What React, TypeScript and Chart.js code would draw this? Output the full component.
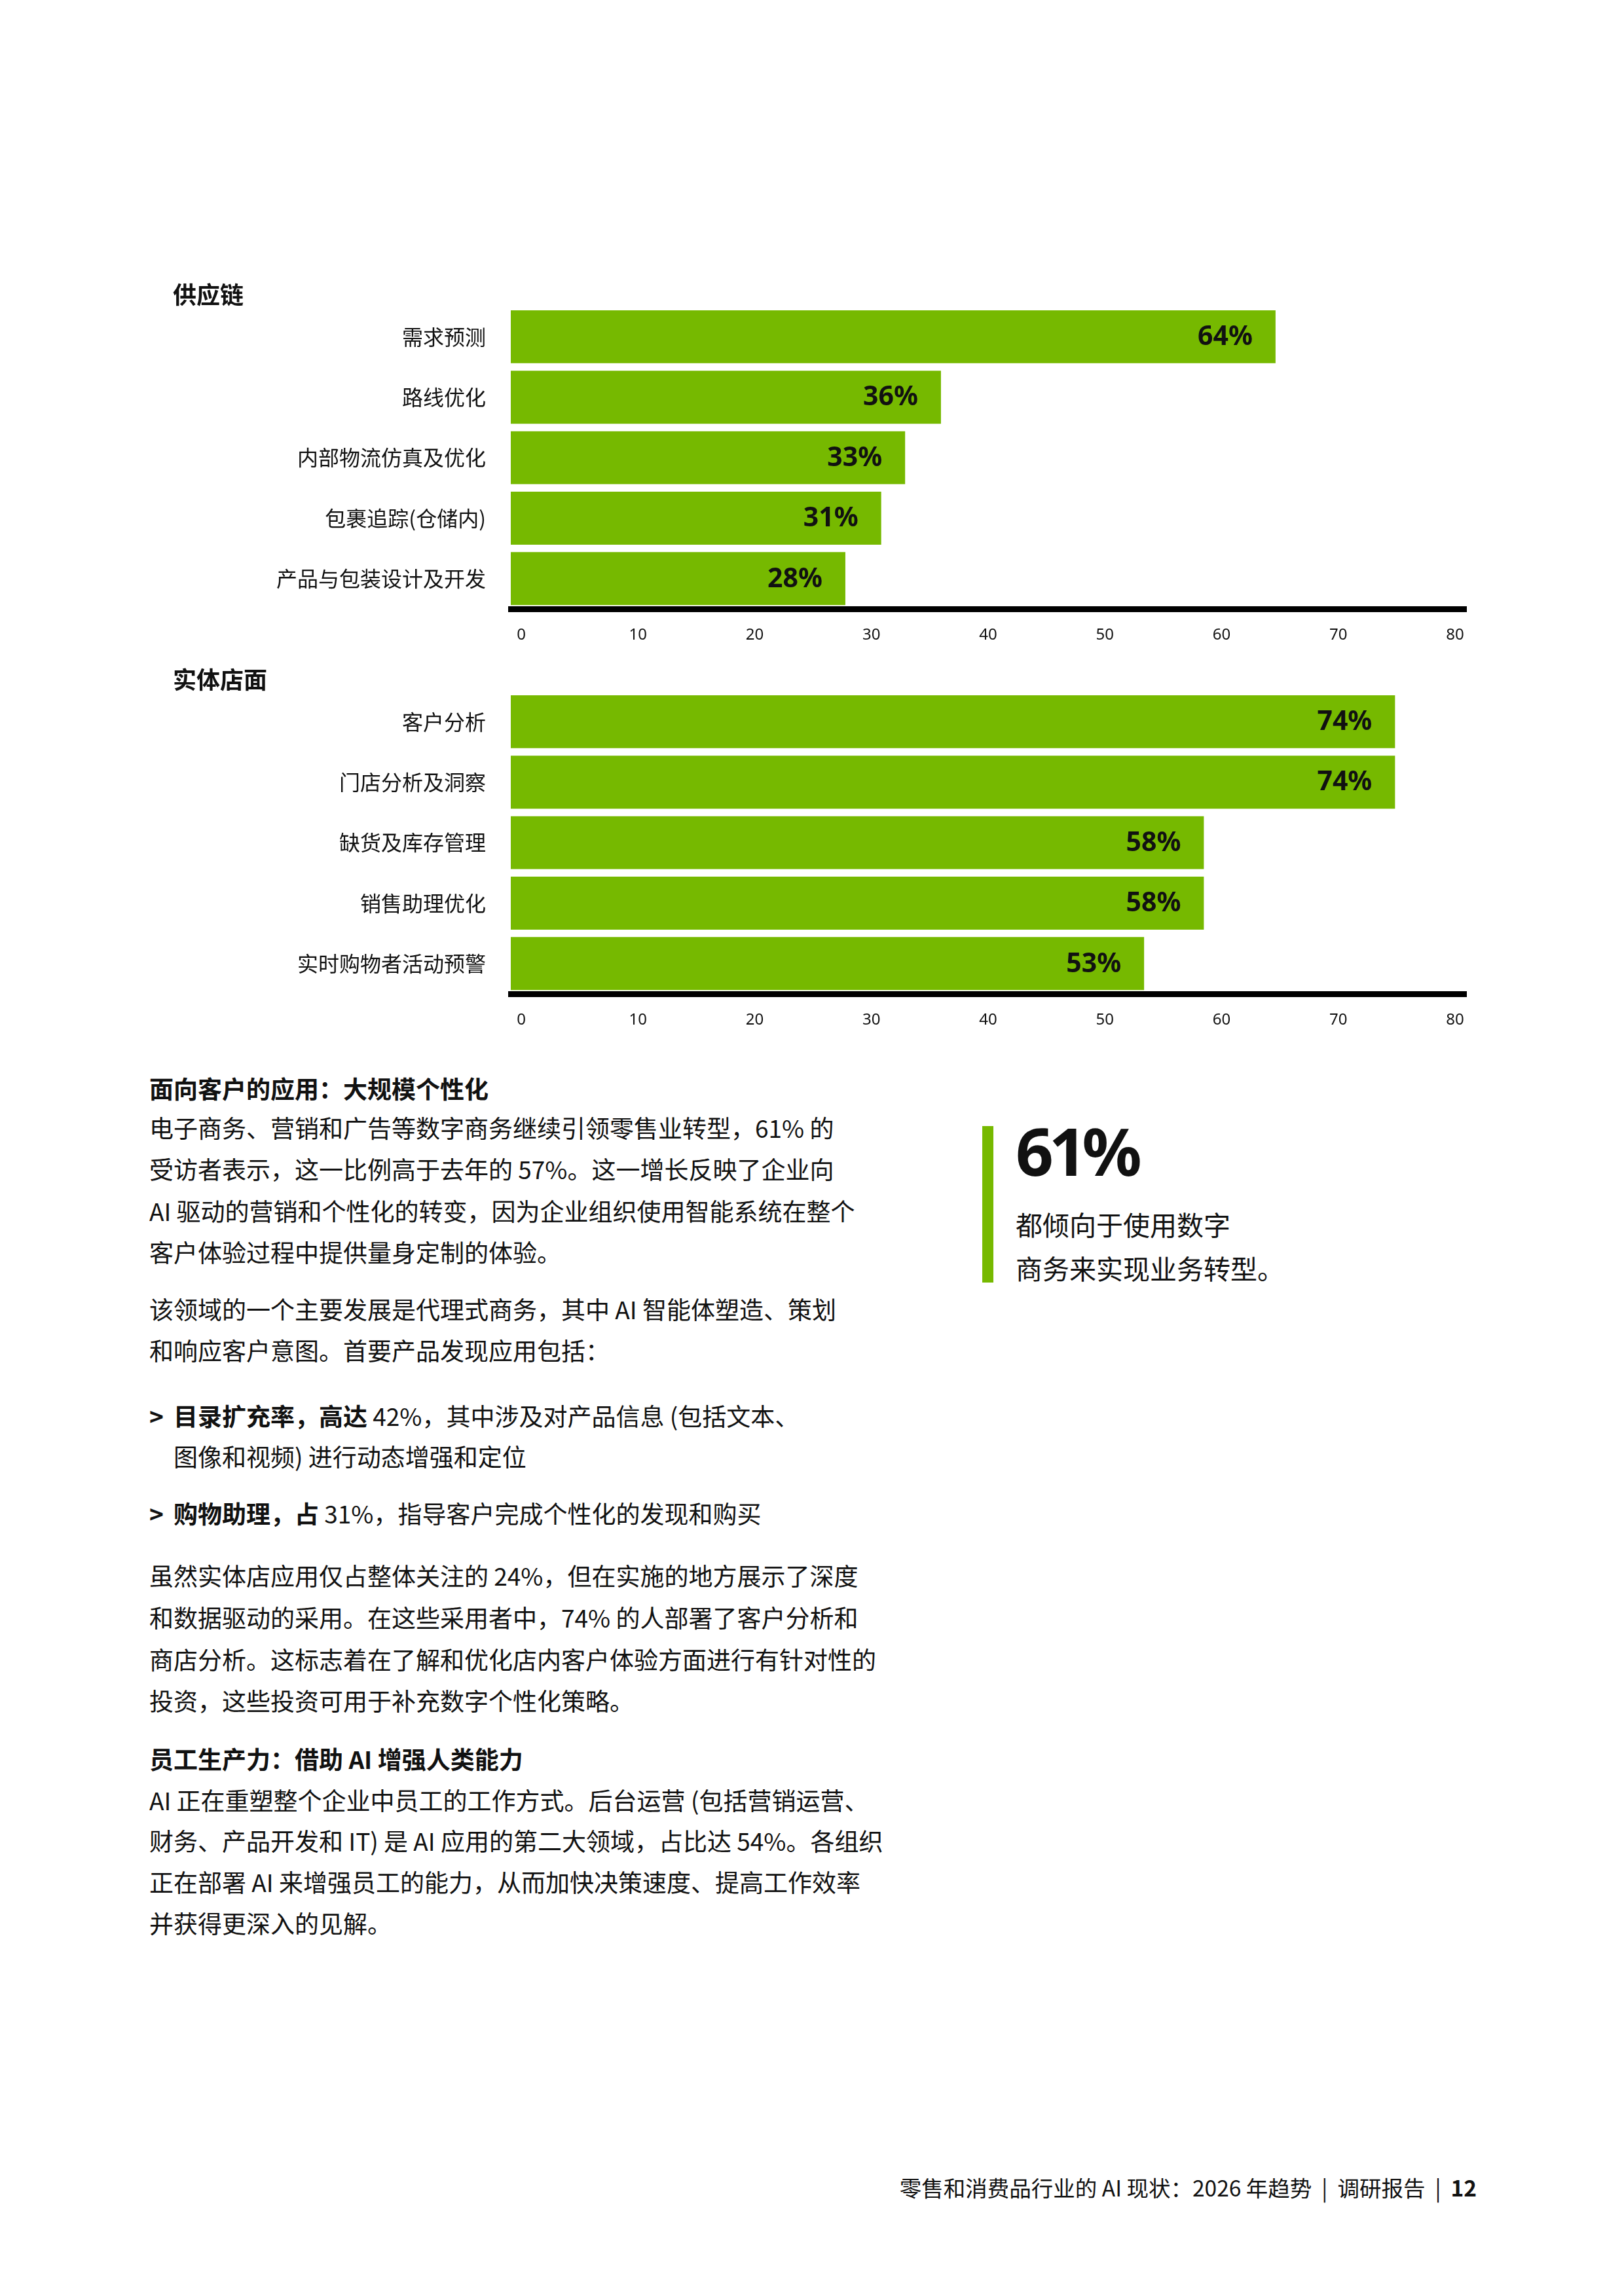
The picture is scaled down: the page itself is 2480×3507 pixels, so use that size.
import React, { useEffect, useRef } from "react";
import { Chart, registerables } from "chart.js";

Chart.register(...registerables);

// ---------- data ----------
const supplyTitle = "供应链";
const supplyCategories = ["需求预测", "路线优化", "内部物流仿真及优化", "包裹追踪(仓储内)", "产品与包装设计及开发"];
const supplyValues = [64, 36, 33, 31, 28];

const storeTitle = "实体店面";
const storeCategories = ["客户分析", "门店分析及洞察", "缺货及库存管理", "销售助理优化", "实时购物者活动预警"];
const storeValues = [74, 74, 58, 58, 53];

const xTickValues = [0, 10, 20, 30, 40, 50, 60, 70, 80];

// ---------- style ----------
const GREEN = "#76b900";
const INK = "#111111";
const CJK = '"Noto Sans CJK SC", "Noto Sans", sans-serif';
const LATIN = '"Noto Sans", "Noto Sans CJK SC", sans-serif';
// tick-label axis is inset slightly relative to the bar value axis (as in the original)
const TICK_MIN = -0.9;
const TICK_MAX = 81;
const BAR_MIN = 0;
const BAR_MAX = 80;

const valueLabelPlugin = {
  id: "valueLabels",
  afterDatasetsDraw(chart: any) {
    const ctx = chart.ctx;
    const meta = chart.getDatasetMeta(0);
    const data = chart.data.datasets[0].data as number[];
    ctx.save();
    ctx.font = `bold 41px ${LATIN}`;
    ctx.fillStyle = INK;
    ctx.textAlign = "right";
    ctx.textBaseline = "middle";
    meta.data.forEach((bar: any, i: number) => {
      ctx.fillText(`${data[i]}%`, bar.x - 35, bar.y + 1);
    });
    ctx.restore();
  },
};

function BarPanel(props: { title: string; categories: string[]; values: number[]; top: number }) {
  const ref = useRef<HTMLCanvasElement>(null);
  useEffect(() => {
    const chart = new Chart(ref.current as HTMLCanvasElement, {
      type: "bar",
      data: {
        labels: props.categories,
        datasets: [
          {
            data: props.values,
            xAxisID: "xb",
            backgroundColor: GREEN,
            borderWidth: 0,
            barPercentage: 0.876,
            categoryPercentage: 1,
          } as any,
        ],
      },
      options: {
        indexAxis: "y",
        responsive: false,
        animation: false,
        devicePixelRatio: 1,
        layout: { autoPadding: false, padding: { left: 0, right: 20, top: 0, bottom: 0 } },
        plugins: {
          legend: { display: false },
          tooltip: { enabled: false },
          title: {
            display: true,
            text: props.title,
            align: "start",
            color: INK,
            font: { family: CJK, size: 36, weight: "bold", lineHeight: 1 },
            padding: { top: 20, bottom: 0 },
          },
        },
        scales: {
          xb: {
            type: "linear",
            axis: "x",
            position: "bottom",
            min: BAR_MIN,
            max: BAR_MAX,
            display: false,
          },
          x: {
            type: "linear",
            axis: "x",
            position: "bottom",
            min: TICK_MIN,
            max: TICK_MAX,
            afterBuildTicks: (s: any) => {
              s.ticks = xTickValues.map((v) => ({ value: v }));
            },
            afterFit: (s: any) => {
              s.height = 70;
            },
            grid: { display: false, drawTicks: false },
            border: { display: true, color: "#000000", width: 9 },
            ticks: {
              font: { family: LATIN, size: 24 },
              color: INK,
              padding: 26,
              autoSkip: false,
              maxRotation: 0,
            },
          },
          y: {
            afterFit: (s: any) => {
              s.width = 516;
            },
            grid: { display: false, drawTicks: false },
            border: { display: false },
            ticks: {
              font: { family: CJK, size: 32 },
              color: INK,
              padding: 38,
              autoSkip: false,
            },
          },
        },
      } as any,
      plugins: [valueLabelPlugin],
    });
    return () => chart.destroy();
  }, []);
  return (
    <canvas
      ref={ref}
      width={1998}
      height={589}
      style={{ position: "absolute", left: 264, top: props.top, width: 1998, height: 589 }}
    />
  );
}

const LH = 63;
function Line(props: { y: number; x?: number; children: React.ReactNode; bold?: boolean }) {
  return (
    <div
      style={{
        position: "absolute",
        left: props.x ?? 228,
        top: props.y - LH / 2,
        height: LH,
        lineHeight: `${LH}px`,
        fontSize: 37,
        fontFamily: CJK,
        fontWeight: props.bold ? 700 : 400,
        color: INK,
        whiteSpace: "nowrap",
      }}
    >
      {props.children}
    </div>
  );
}

export default function App() {
  return (
    <div
      style={{
        position: "absolute",
        left: 0,
        top: 0,
        width: 2480,
        height: 3507,
        background: "#ffffff",
        overflow: "hidden",
      }}
    >
      <BarPanel title={supplyTitle} categories={supplyCategories} values={supplyValues} top={411} />
      <BarPanel title={storeTitle} categories={storeCategories} values={storeValues} top={999} />

      <Line y={1662} bold>面向客户的应用：大规模个性化</Line>
      <Line y={1722}>电子商务、营销和广告等数字商务继续引领零售业转型，61% 的</Line>
      <Line y={1785}>受访者表示，这一比例高于去年的 57%。这一增长反映了企业向</Line>
      <Line y={1849}>AI 驱动的营销和个性化的转变，因为企业组织使用智能系统在整个</Line>
      <Line y={1912}>客户体验过程中提供量身定制的体验。</Line>

      <Line y={1999}>该领域的一个主要发展是代理式商务，其中 AI 智能体塑造、策划</Line>
      <Line y={2062}>和响应客户意图。首要产品发现应用包括：</Line>

      <Line y={2162} bold>&gt;</Line>
      <Line y={2162} x={265}>
        <b>目录扩充率，高达</b> 42%，其中涉及对产品信息 (包括文本、
      </Line>
      <Line y={2224} x={265}>图像和视频) 进行动态增强和定位</Line>

      <Line y={2311} bold>&gt;</Line>
      <Line y={2311} x={265}>
        <b>购物助理，占</b> 31%，指导客户完成个性化的发现和购买
      </Line>

      <Line y={2406}>虽然实体店应用仅占整体关注的 24%，但在实施的地方展示了深度</Line>
      <Line y={2470}>和数据驱动的采用。在这些采用者中，74% 的人部署了客户分析和</Line>
      <Line y={2534}>商店分析。这标志着在了解和优化店内客户体验方面进行有针对性的</Line>
      <Line y={2597}>投资，这些投资可用于补充数字个性化策略。</Line>

      <Line y={2686} bold>员工生产力：借助 AI 增强人类能力</Line>
      <Line y={2749}>AI 正在重塑整个企业中员工的工作方式。后台运营 (包括营销运营、</Line>
      <Line y={2811}>财务、产品开发和 IT) 是 AI 应用的第二大领域，占比达 54%。各组织</Line>
      <Line y={2874}>正在部署 AI 来增强员工的能力，从而加快决策速度、提高工作效率</Line>
      <Line y={2937}>并获得更深入的见解。</Line>

      {/* callout */}
      <div style={{ position: "absolute", left: 1500, top: 1720, width: 17, height: 239, background: GREEN }} />
      <div
        style={{
          position: "absolute",
          left: 1551,
          top: 1707,
          fontFamily: LATIN,
          fontWeight: 700,
          fontSize: 101,
          lineHeight: "101px",
          letterSpacing: -7,
          color: INK,
          whiteSpace: "nowrap",
        }}
      >
        61%
      </div>
      <div
        style={{
          position: "absolute",
          left: 1551,
          top: 1869 - 33.5,
          fontFamily: CJK,
          fontSize: 41,
          lineHeight: "67px",
          color: INK,
          whiteSpace: "nowrap",
        }}
      >
        都倾向于使用数字
        <br />
        商务来实现业务转型。
      </div>

      {/* footer */}
      <div
        style={{
          position: "absolute",
          right: 2480 - 2255,
          top: 3341 - 25,
          height: 50,
          lineHeight: "50px",
          fontFamily: CJK,
          fontSize: 33.5,
          color: INK,
          whiteSpace: "nowrap",
        }}
      >
        零售和消费品行业的 AI 现状：2026 年趋势 &nbsp;|&nbsp; 调研报告 &nbsp;|&nbsp; <b>12</b>
      </div>
    </div>
  );
}
